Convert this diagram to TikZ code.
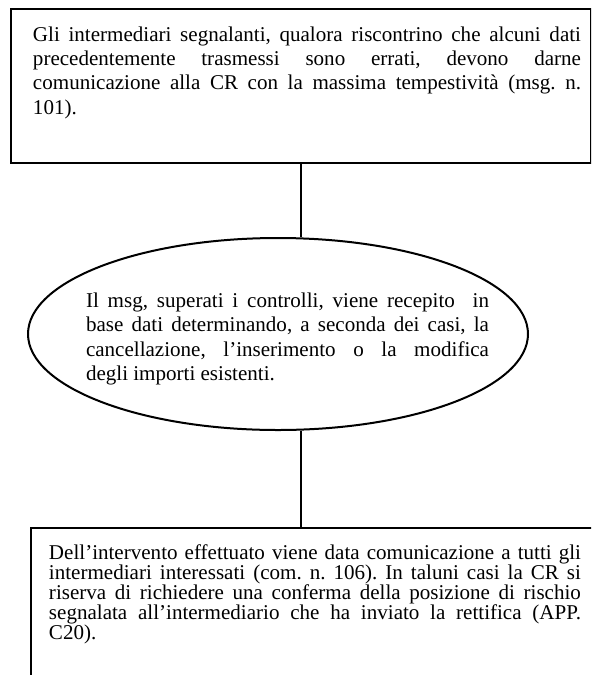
\documentclass[tikz,border=0pt]{standalone}
\usepackage{fontspec}
\setmainfont{Liberation Serif}[Ligatures={TeX,NoCommon}]
\usepackage{tikz}
\usetikzlibrary{shapes}
\tolerance=10000
\hbadness=10000
\frenchspacing
\tikzstyle{casella} = [rectangle, draw, line width=1.14pt, align=justify, inner ysep=0pt]
\tikzstyle{ovale} = [ellipse, draw, line width=1.14pt, inner sep=0pt]
\tikzstyle{testo} = [font=\fontsize{12}{13.9}\selectfont]
\tikzstyle{testostretto} = [font=\fontsize{12}{11.5}\selectfont]
\tikzstyle{linea} = [line width=1.14pt]

\begin{document}
\begin{tikzpicture}[x=0.57pt, y=-0.57pt]
		\useasboundingbox (0,0) rectangle (591,675);
		\clip (0,0) rectangle (591,675);
		
		% Riquadro segnalazione
		\node [casella, testo, anchor=north west, text width=319.2pt, inner xsep=5.7pt, text height=18.24pt, text depth=69.54pt] (segnalazione) at (10,8) {{\leftskip=6.84pt Gli intermediari segnalanti, qualora riscontrino che alcuni dati\linebreak precedentemente trasmessi sono errati, devono darne\linebreak comunicazione alla CR con la massima tempestività (msg. n.\linebreak 101).\par}};
		
		% Ovale recepimento
		\node [ovale, minimum width=285pt, minimum height=109.44pt] (recepimento) at (278,334) {};
		\node [testo, text width=229.7pt, align=justify, inner sep=0pt] (testorecepimento) at (287.5,339) {Il msg, superati i controlli, viene recepito \ in\linebreak base dati determinando, a seconda dei casi, la\linebreak cancellazione, l'inserimento o la modifica\linebreak degli importi esistenti.};
		
		% Riquadro rettifica
		\node [casella, testostretto, anchor=north west, text width=303.2pt, inner xsep=10.26pt, text height=17.67pt, text depth=137.9pt] (rettifica) at (30,527) {Dell'intervento effettuato viene data comunicazione a tutti gli\linebreak intermediari interessati (com. n. 106). In taluni casi la CR si\linebreak riserva di richiedere una conferma della posizione di rischio\linebreak segnalata all'intermediario che ha inviato la rettifica (APP.\linebreak C20).};
		
		\draw[linea] (segnalazione.south) -- (segnalazione.south |- recepimento.north);
		\draw[linea] (segnalazione.south |- recepimento.south) -- (segnalazione.south |- rettifica.north);
	\end{tikzpicture}
\end{document}
